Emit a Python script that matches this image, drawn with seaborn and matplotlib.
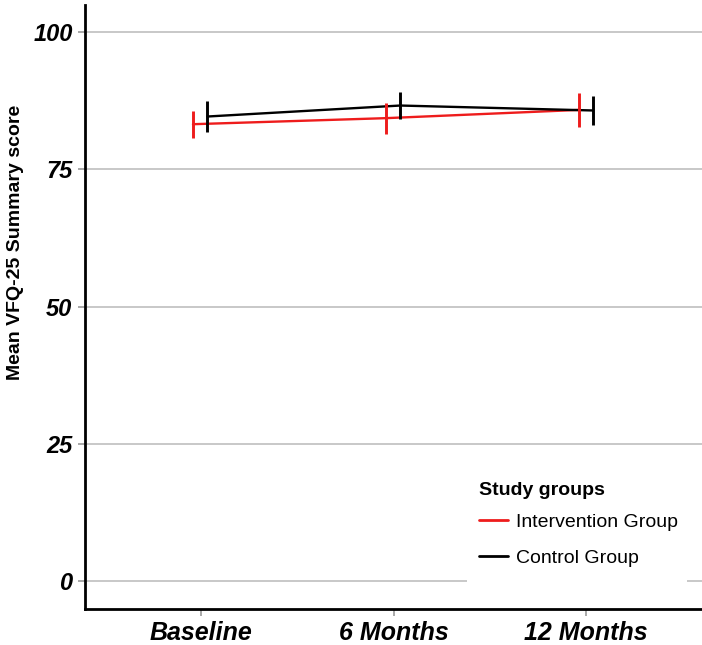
import matplotlib
matplotlib.use("Agg")
import matplotlib.pyplot as plt
from matplotlib.patches import Rectangle
import seaborn as sns
import pandas as pd
import numpy as np

timepoints = ["Baseline", "6 Months", "12 Months"]
groups = ["Intervention Group", "Control Group"]
intervention_mean = [83.2, 84.3, 85.8]
intervention_err = [2.45, 2.85, 3.05]
control_mean = [84.6, 86.6, 85.7]
control_err = [2.9, 2.45, 2.65]
y_ticks = [0, 25, 50, 75, 100]

colors = {"Intervention Group": "#EE1C1C", "Control Group": "#000000"}
offsets = {"Intervention Group": -0.04, "Control Group": 0.035}

rows = []
for g, means, errs in [(groups[0], intervention_mean, intervention_err),
                       (groups[1], control_mean, control_err)]:
    for i, t in enumerate(timepoints):
        rows.append({"group": g, "time": t, "pos": i + offsets[g],
                     "mean": means[i], "err": errs[i]})
df = pd.DataFrame(rows)

sns.set_style("white")
plt.rcParams["font.family"] = ["Liberation Sans", "DejaVu Sans"]
plt.rcParams["text.color"] = "black"
plt.rcParams["axes.labelcolor"] = "black"

fig = plt.figure(figsize=(7.02, 6.45), dpi=100)
ax = fig.add_axes([85 / 702, 1 - 608.5 / 645, 1 - 85 / 702, (608.5 - 4.5) / 645])

sns.lineplot(data=df, x="pos", y="mean", hue="group", hue_order=groups,
             palette=colors, linewidth=1.7, ax=ax, legend=True, zorder=3)
for g in groups:
    sub = df[df.group == g]
    ax.vlines(sub["pos"], sub["mean"] - sub["err"], sub["mean"] + sub["err"],
              color=colors[g], linewidth=2.1, zorder=3)

ax.set_xlim(-0.6, 2.6)
ax.set_ylim(-5, 105)
ax.set_xticks(range(len(timepoints)))
ax.set_xticklabels(timepoints, fontsize=18, fontweight="bold", fontstyle="italic")
ax.set_yticks(y_ticks)
ax.set_yticklabels([str(v) for v in y_ticks], fontsize=17, fontweight="bold",
                   fontstyle="italic")
ax.tick_params(axis="both", which="major", length=5, width=1.2, color="#999999",
               labelcolor="black", bottom=True, left=True, pad=4)
ax.set_xlabel("")
ax.set_ylabel("Mean VFQ-25 Summary score", fontsize=14, fontweight="bold")
ax.yaxis.set_label_coords((24 - 85) / 617, (608.5 - 242) / 604)

ax.yaxis.grid(True, color="#C4C4C4", linewidth=1.3)
ax.xaxis.grid(False)
ax.set_axisbelow(True)
for s in ["top", "right"]:
    ax.spines[s].set_visible(False)
for s in ["left", "bottom"]:
    ax.spines[s].set_color("black")
    ax.spines[s].set_linewidth(2.0)

# white legend background panel
bg = Rectangle((467 / 702, 1 - 598 / 645), 220 / 702, 128 / 645,
               transform=fig.transFigure, facecolor="white", edgecolor="none",
               zorder=2)
ax.add_patch(bg)

handles, labels = ax.get_legend_handles_labels()
for h in handles:
    h.set_linewidth(2.0)
leg = ax.legend(handles, labels, title="Study groups", loc="upper left",
                bbox_to_anchor=(460 / 702, 1 - 463 / 645), bbox_transform=fig.transFigure,
                frameon=False, fontsize=14,
                title_fontproperties={"weight": "bold", "size": 14},
                handlelength=1.45, handletextpad=0.45, labelspacing=0.95,
                borderpad=0.5)
leg._legend_box.align = "left"
leg._legend_box.sep = 14 * 0.95 - 3.6
leg.set_zorder(5)

fig.savefig("out.png", dpi=100)
